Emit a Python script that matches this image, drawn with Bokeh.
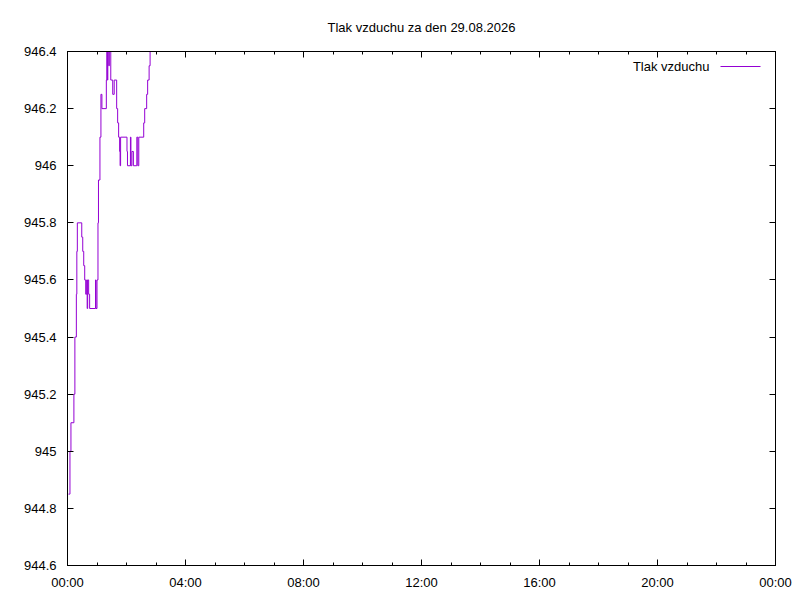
from bokeh.plotting import figure
from bokeh.models import Range1d, FixedTicker, LinearAxis, Label, Arrow
from bokeh.embed import file_html
from bokeh.resources import INLINE

# --- data (minutes since midnight, pressure hPa) ---
times = [2, 5, 7, 13, 15, 18, 19, 20, 29, 31, 33, 35, 37, 39, 40, 41, 43, 45,
         57, 58, 60, 62, 63, 66, 68, 70, 79, 80, 81, 82, 84, 85, 88, 92, 95,
         100, 102, 104, 106, 107, 108, 121, 122, 128, 129, 131, 134, 141, 143,
         145, 155, 157, 161, 163, 166, 168, 170]
pressure = [944.85, 945.0, 945.1, 945.2, 945.4, 945.55, 945.7, 945.8, 945.75,
            945.7, 945.65, 945.6, 945.55, 945.6, 945.5, 945.6, 945.55, 945.5,
            945.6, 945.5, 945.6, 945.8, 945.95, 946.1, 946.25, 946.2, 946.3,
            946.4, 946.3, 946.4, 946.35, 946.4, 946.3, 946.25, 946.3, 946.2,
            946.15, 946.1, 946.05, 946.0, 946.1, 946.05, 946.0, 946.1, 946.0,
            946.05, 946.0, 946.1, 946.0, 946.1, 946.15, 946.2, 946.25, 946.3,
            946.35, 946.5, 946.5]

title_text = "Tlak vzduchu za den 29.08.2026"
series_name = "Tlak vzduchu"

x_ticks = [0, 240, 480, 720, 960, 1200, 1440]
x_tick_labels = ["00:00", "04:00", "08:00", "12:00", "16:00", "20:00", "00:00"]
x_minor = [60 * h for h in range(25)]
y_ticks = [944.6, 944.8, 945.0, 945.2, 945.4, 945.6, 945.8, 946.0, 946.2, 946.4]
y_tick_labels = ["944.6", "944.8", "945", "945.2", "945.4", "945.6", "945.8",
                 "946", "946.2", "946.4"]

FONT = "Liberation Sans"
COLOR = "#9400D3"

p = figure(width=800, height=600, output_backend="svg", toolbar_location=None,
           x_range=Range1d(0, 1440), y_range=Range1d(944.6, 946.4),
           min_border_left=67, min_border_right=25, min_border_top=51,
           min_border_bottom=35, x_axis_type=None, y_axis_type=None)
p.background_fill_color = "white"
p.border_fill_color = "white"
p.outline_line_color = "black"
p.outline_line_width = 1
p.grid.visible = False

p.title.text = title_text
p.title.align = "center"
p.title.text_font = FONT
p.title.text_font_size = "13px"
p.title.text_font_style = "normal"
p.title.text_color = "black"
p.title.standoff = 33


def style_axis(ax, labels=True):
    ax.axis_line_color = "black"
    ax.major_tick_line_color = "black"
    ax.minor_tick_line_color = "black"
    ax.major_tick_in = 6
    ax.major_tick_out = 0
    ax.minor_tick_in = 3
    ax.minor_tick_out = 0
    ax.major_label_text_font = FONT
    ax.major_label_text_font_size = "13px"
    ax.major_label_text_color = "black"
    if not labels:
        ax.major_label_text_alpha = 0
        ax.major_label_text_font_size = "0px"
        ax.major_label_standoff = 0


xb = LinearAxis(ticker=FixedTicker(ticks=x_ticks, minor_ticks=x_minor))
xb.major_label_overrides = dict(zip(x_ticks, x_tick_labels))
style_axis(xb)
xb.major_label_standoff = 9
p.add_layout(xb, "below")

xt = LinearAxis(ticker=FixedTicker(ticks=x_ticks, minor_ticks=x_minor))
style_axis(xt, labels=False)
p.add_layout(xt, "above")

yl = LinearAxis(ticker=FixedTicker(ticks=y_ticks, minor_ticks=[]))
yl.major_label_overrides = dict(zip(y_ticks, y_tick_labels))
style_axis(yl)
yl.major_label_standoff = 11
p.add_layout(yl, "left")

yr = LinearAxis(ticker=FixedTicker(ticks=y_ticks, minor_ticks=[]))
style_axis(yr, labels=False)
p.add_layout(yr, "right")

p.step(times, pressure, mode="after", line_color=COLOR, line_width=1)

# legend (gnuplot style: text then sample line)
p.add_layout(Label(x=642, y=499, x_units="screen", y_units="screen",
                   text=series_name, text_font=FONT, text_font_size="13px",
                   text_align="right", text_baseline="middle",
                   text_color="black"))
p.add_layout(Arrow(x_start=653, y_start=499, x_end=693, y_end=499,
                   start_units="screen", end_units="screen", end=None,
                   line_color=COLOR, line_width=1))

open("out.html", "w").write(file_html(p, INLINE))
